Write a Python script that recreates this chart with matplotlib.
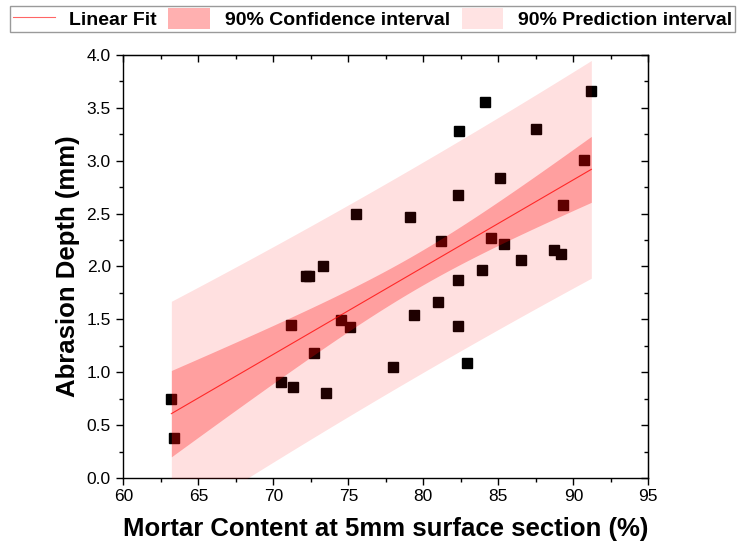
import numpy as np
import matplotlib
matplotlib.use("Agg")
import matplotlib.pyplot as plt
import matplotlib.patches as mpatches
from matplotlib.lines import Line2D
from matplotlib.ticker import MultipleLocator, FormatStrFormatter

plt.rcParams["font.family"] = ["Liberation Sans", "DejaVu Sans"]

# Mortar content (%) vs abrasion depth (mm)
mortar = [63.2, 63.4, 70.5, 71.2, 71.3, 72.2, 72.4, 72.7, 73.3, 73.5,
          74.5, 75.1, 75.5, 78.0, 79.1, 79.4, 81.0, 81.2, 82.3, 82.3,
          82.3, 82.4, 82.9, 83.9, 84.1, 84.5, 85.1, 85.4, 86.5, 87.5,
          88.7, 89.2, 89.3, 90.7, 91.2]
depth = [0.75, 0.38, 0.91, 1.45, 0.86, 1.91, 1.91, 1.18, 2.00, 0.80,
         1.49, 1.43, 2.50, 1.05, 2.47, 1.54, 1.66, 2.24, 1.87, 1.44,
         2.68, 3.28, 1.09, 1.97, 3.56, 2.27, 2.84, 2.21, 2.06, 3.30,
         2.16, 2.12, 2.58, 3.01, 3.66]

T_90 = 1.692  # t(0.95, df=33)

x = np.array(mortar)
y = np.array(depth)
n = len(x)
slope, intercept = np.polyfit(x, y, 1)
resid = y - (slope * x + intercept)
s = np.sqrt(np.sum(resid ** 2) / (n - 2))
sxx = np.sum((x - x.mean()) ** 2)

xf = np.linspace(x.min(), x.max(), 200)
yf = slope * xf + intercept
se_conf = s * np.sqrt(1 / n + (xf - x.mean()) ** 2 / sxx)
se_pred = s * np.sqrt(1 + 1 / n + (xf - x.mean()) ** 2 / sxx)

fig = plt.figure(figsize=(7.39, 5.52), dpi=100)
ax = fig.add_axes([0.1669, 0.1341, 0.7104, 0.7663])

ax.plot(x, y, "s", color="black", markersize=7.2, zorder=2)
ax.fill_between(xf, yf - T_90 * se_pred, yf + T_90 * se_pred,
                color="red", alpha=0.12, linewidth=0, zorder=3)
ax.fill_between(xf, yf - T_90 * se_conf, yf + T_90 * se_conf,
                color="red", alpha=0.29, linewidth=0, zorder=3)
ax.plot(xf, yf, color="red", linewidth=0.8, alpha=0.75, zorder=4)

ax.set_xlim(60, 95)
ax.set_ylim(0, 4.0)
ax.xaxis.set_major_locator(MultipleLocator(5))
ax.xaxis.set_minor_locator(MultipleLocator(2.5))
ax.yaxis.set_major_locator(MultipleLocator(0.5))
ax.yaxis.set_minor_locator(MultipleLocator(0.25))
ax.yaxis.set_major_formatter(FormatStrFormatter("%.1f"))
ax.tick_params(which="major", direction="out", length=5, width=1.0,
               labelsize=12.5, pad=3)
ax.tick_params(axis="y", which="major", pad=4)
ax.tick_params(which="minor", direction="out", length=2.8, width=1.0)
for sp in ax.spines.values():
    sp.set_linewidth(1.0)

# inward ticks on the mirrored top / right axes
top = ax.secondary_xaxis("top")
top.xaxis.set_major_locator(MultipleLocator(5))
top.xaxis.set_minor_locator(MultipleLocator(2.5))
top.tick_params(which="both", direction="in", labeltop=False, width=1.0)
top.tick_params(which="major", length=5)
top.tick_params(which="minor", length=3)
right = ax.secondary_yaxis("right")
right.yaxis.set_major_locator(MultipleLocator(0.5))
right.yaxis.set_minor_locator(MultipleLocator(0.25))
right.tick_params(which="both", direction="in", labelright=False, width=1.0)
right.tick_params(which="major", length=5)
right.tick_params(which="minor", length=3)

ax.set_xlabel("Mortar Content at 5mm surface section (%)",
              fontsize=18.5, fontweight="bold", labelpad=9)
ax.set_ylabel("Abrasion Depth (mm)", fontsize=18.5, fontweight="bold",
              labelpad=5)

handles = [
    Line2D([0], [0], color="red", linewidth=0.8, alpha=0.6),
    mpatches.Patch(facecolor="red", alpha=0.31, linewidth=0),
    mpatches.Patch(facecolor="red", alpha=0.11, linewidth=0),
]
labels = ["Linear Fit", "90% Confidence interval", "90% Prediction interval"]
leg = fig.legend(handles, labels, loc="upper center", ncol=3,
                 bbox_to_anchor=(0.504, 0.99),
                 prop={"weight": "bold", "size": 14},
                 handlelength=2.15, handleheight=1.25, handletextpad=0.75,
                 columnspacing=0.6, borderpad=0.15, borderaxespad=0,
                 fancybox=False, framealpha=1)
leg.get_frame().set_edgecolor("#9a9a9a")
leg.get_frame().set_linewidth(1.0)

fig.savefig("out.png", dpi=100)
